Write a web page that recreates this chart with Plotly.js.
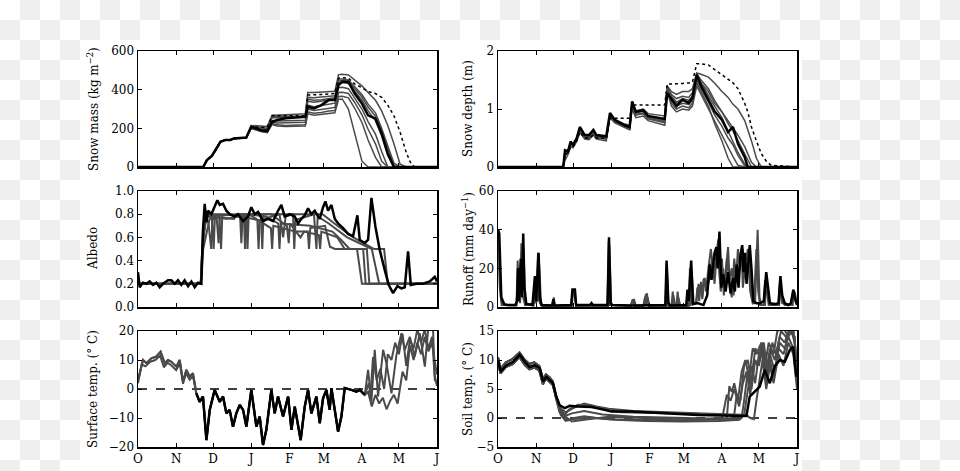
<!DOCTYPE html>
<html><head><meta charset="utf-8">
<script src="https://cdn.plot.ly/plotly-3.0.1.min.js"></script>
<style>
html,body{margin:0;padding:0;}
#wrap{position:relative;width:960px;height:471px;overflow:hidden;
 background:repeating-conic-gradient(#efefef 0 25%, #ffffff 0 50%) 0 0/40px 40px;}
#sheet{position:absolute;left:80px;top:40px;width:722px;height:431px;background:#fff;}
#plot{position:absolute;left:0;top:0;width:960px;height:471px;}
</style>
</head><body>
<div id="wrap"><div id="sheet"></div><div id="plot"></div></div>
<script>
// ---------- axis ticks ----------
const MONTH_DAYS = [0,31,61,92,123,151,182,212,243];
const MONTH_LABELS = ['O','N','D','J','F','M','A','M','J'];

// ---------- snow mass (kg m-2) ----------
const SM_DAYS = [0,53,56,60,63,67,71,75,78,88,92,100,105,109,113,120,136,138,143,149,155,160,163,166,171,176,182,187,193,198,203,208,213,218,222,225,243];
const SM_OBS = [0,0,36,57,88,131,140,140,148,152,208,190,186,234,243,252,260,312,303,320,346,346,424,441,441,381,328,267,250,174,69,0,0,0,0,0,0];
const SM_DOT = [0,0,34,55,86,128,138,139,146,150,205,205,205,265,265,265,265,372,372,375,378,380,460,462,460,430,410,390,380,360,320,265,180,75,15,0,0];
const SM_G1 = [0,0,35,55,88,130,138,140,147,150,215,212,210,268,268,270,275,385,385,388,390,392,478,480,476,450,420,385,345,290,215,120,15,0,0,0,0];
const SM_G2 = [0,0,36,57,90,132,140,141,148,152,210,205,200,262,262,262,264,360,358,362,366,368,455,455,450,415,375,325,280,200,110,20,0,0,0,0,0];
const SM_G3 = [0,0,35,56,88,130,139,140,147,151,208,198,195,255,254,256,258,340,335,340,348,350,435,437,432,395,345,290,240,160,60,0,0,0,0,0,0];
const SM_G4 = [0,0,37,58,89,131,140,141,149,153,205,192,188,240,238,240,242,320,312,318,325,330,410,412,405,360,300,235,170,80,0,0,0,0,0,0,0];
const SM_G5 = [0,0,36,56,87,130,139,140,147,151,205,190,185,232,228,230,232,300,292,298,305,308,385,386,380,335,270,195,120,30,0,0,0,0,0,0,0];
const SM_G6 = [0,0,35,57,89,131,139,140,148,152,200,185,180,225,218,215,218,285,278,282,290,292,365,366,358,305,230,140,50,0,0,0,0,0,0,0,0];
const SM_G7 = [0,0,36,57,88,131,140,140,148,152,200,183,178,220,212,210,212,275,268,272,278,280,350,352,300,180,30,0,0,0,0,0,0,0,0,0,0];
const SM_G8 = [0,0,36,57,88,131,140,141,148,152,210,200,196,258,258,258,260,350,345,348,355,358,445,448,442,408,362,310,262,190,95,5,0,0,0,0,0];

// ---------- snow depth (m) ----------
const SD_DAYS = [0,53,54.5,57,59,61,64,66.5,70.5,74,77.5,80,88,91,95,103,107,109,112,118,122,135.5,137.5,141,145,150,155,158,161.5,165,171,176,182,187,191,195,200.5,203,206,210,214,218,222,243];
const SD_OBS = [0,0,0.29,0.27,0.44,0.38,0.5,0.69,0.55,0.55,0.64,0.55,0.53,0.93,0.81,0.72,0.69,1.13,0.95,0.98,0.88,0.83,1.27,1.16,1.05,1.16,1.1,1.19,1.59,1.4,1.16,0.96,0.81,0.6,0.69,0.4,0.17,0,0,0,0,0,0,0];
const SD_DOT = [0,0,0.2,0.25,0.35,0.35,0.45,0.6,0.5,0.5,0.55,0.5,0.5,0.84,0.84,0.84,0.84,1.07,1.07,1.07,1.07,1.07,1.43,1.43,1.43,1.44,1.45,1.46,1.78,1.78,1.76,1.68,1.6,1.52,1.45,1.35,1.1,0.95,0.69,0.45,0.23,0.1,0.03,0];
const SD_G1 = [0,0,0.22,0.3,0.4,0.36,0.48,0.66,0.53,0.52,0.6,0.53,0.5,0.9,0.82,0.74,0.72,1.12,0.97,1.0,0.92,0.88,1.4,1.3,1.25,1.3,1.3,1.35,1.62,1.6,1.55,1.45,1.3,1.2,1.08,1.0,0.8,0.65,0.45,0.15,0,0,0,0];
const SD_G2 = [0,0,0.26,0.28,0.42,0.37,0.49,0.67,0.54,0.53,0.62,0.54,0.51,0.91,0.8,0.71,0.68,1.1,0.93,0.96,0.86,0.8,1.38,1.22,1.12,1.18,1.15,1.22,1.6,1.5,1.35,1.15,0.95,0.8,0.68,0.55,0.35,0.22,0.08,0,0,0,0,0];
const SD_G3 = [0,0,0.12,0.22,0.35,0.33,0.44,0.6,0.48,0.47,0.55,0.48,0.45,0.85,0.76,0.68,0.64,1.0,0.85,0.88,0.8,0.72,1.3,1.05,0.95,1.0,0.98,1.05,1.4,1.25,1.0,0.8,0.55,0.35,0.18,0.03,0,0,0,0,0,0,0,0];
const SD_G4 = [0,0,0.25,0.3,0.41,0.37,0.47,0.64,0.52,0.5,0.58,0.51,0.49,0.88,0.78,0.7,0.66,1.08,0.9,0.93,0.84,0.78,1.35,1.1,1.0,1.05,1.02,1.1,1.45,1.3,1.05,0.75,0.45,0.15,0,0,0,0,0,0,0,0,0,0];
const SD_G5 = [0,0,0.27,0.29,0.43,0.38,0.5,0.68,0.55,0.54,0.62,0.54,0.52,0.9,0.8,0.7,0.68,1.12,0.95,0.97,0.88,0.8,1.38,1.2,1.1,1.15,1.12,1.2,1.58,1.45,1.25,1.05,0.85,0.62,0.45,0.25,0.05,0,0,0,0,0,0,0];
const SD_G6 = [0,0,0.2,0.27,0.4,0.36,0.47,0.65,0.52,0.51,0.6,0.52,0.5,0.89,0.8,0.72,0.7,1.1,0.94,0.97,0.87,0.82,1.36,1.25,1.18,1.22,1.2,1.28,1.55,1.45,1.3,1.1,0.95,0.75,0.62,0.45,0.22,0.1,0,0,0,0,0,0];
const SD_G7 = [0,0,0.24,0.26,0.39,0.35,0.46,0.63,0.5,0.49,0.57,0.5,0.48,0.87,0.77,0.69,0.66,1.06,0.9,0.92,0.83,0.76,1.35,1.15,1.05,1.1,1.08,1.15,1.5,1.35,1.12,0.9,0.7,0.5,0.38,0.2,0.02,0,0,0,0,0,0,0];

// ---------- albedo ----------
const ALB_OBS_D = [0,1.4,4,6.8,9.5,12.2,14.9,17.6,20.3,24.4,27.1,29.8,32.5,35.2,37.9,40.7,43.4,46.1,48.8,51.5,52.8,54.2,55.6,56.9,59.6,62.3,64.5,66.4,69.1,71.8,74.5,78.6,81.3,85.4,89.4,92.1,94.9,97.6,101.6,105.7,109.8,113.8,116.5,119.2,123.3,127.4,130.1,132.8,135.5,138.2,140.9,143.6,147.7,150.4,152.3,154.5,157.2,159.9,162.6,166.7,170.7,174.8,178.3,180.2,184.3,187,189.7,193,196.5,200.5,203.8,207.3,210.8,214.1,216.8,219.5,221.7,226.3,231.7,237.1,241.2,243];
const ALB_OBS = [0.30,0.17,0.21,0.20,0.22,0.19,0.21,0.17,0.20,0.23,0.23,0.20,0.23,0.19,0.23,0.18,0.22,0.17,0.21,0.20,0.66,0.89,0.73,0.83,0.80,0.86,0.92,0.88,0.89,0.83,0.80,0.78,0.80,0.74,0.78,0.86,0.80,0.82,0.74,0.76,0.74,0.83,0.88,0.78,0.80,0.78,0.72,0.76,0.79,0.85,0.80,0.83,0.76,0.86,0.91,0.83,0.88,0.76,0.72,0.68,0.63,0.61,0.79,0.58,0.55,0.58,0.94,0.69,0.49,0.32,0.19,0.12,0.18,0.16,0.17,0.48,0.19,0.20,0.20,0.22,0.26,0.22];
const ALB_G1_D = [0,51,53,56,58,60,61.5,62.5,63.5,66,67.5,68.5,69.5,80,88,89,90,108,109,110,128,138,139,140,152,156,160,183,185,243];
const ALB_G1 = [0.2,0.2,0.5,0.65,0.75,0.78,0.5,0.78,0.79,0.79,0.5,0.79,0.79,0.8,0.8,0.5,0.8,0.68,0.5,0.7,0.65,0.65,0.5,0.68,0.7,0.52,0.5,0.5,0.2,0.2];
const ALB_G2_D = [0,51,52,55,58,75,83,84,85,97,98,99,115,118,120,126,127,128,143,145,146,155,170,180,190,196,243];
const ALB_G2 = [0.2,0.2,0.45,0.76,0.8,0.8,0.78,0.55,0.78,0.75,0.5,0.75,0.8,0.6,0.78,0.8,0.5,0.75,0.8,0.5,0.78,0.72,0.6,0.55,0.5,0.2,0.2];
const ALB_G3_D = [0,51,53,55,57,59.5,60.5,61.5,64,65.5,66.5,78,80,95,108,121,122.5,123.5,132,135,147,148,149,162,168,178,182,243];
const ALB_G3 = [0.2,0.2,0.6,0.73,0.75,0.5,0.75,0.76,0.76,0.55,0.77,0.76,0.8,0.8,0.8,0.7,0.55,0.72,0.6,0.65,0.62,0.5,0.65,0.6,0.5,0.5,0.2,0.2];
const ALB_G4_D = [0,51,54,58,72,92,100,101,102,110,130,150,162,175,192,200,203,243];
const ALB_G4 = [0.2,0.2,0.78,0.78,0.76,0.8,0.8,0.5,0.8,0.8,0.8,0.8,0.7,0.6,0.5,0.5,0.2,0.2];
const ALB_G5_D = [0,51,53,57,70,86,87,88,104,114,115,116,140,158,165,172,186,188,243];
const ALB_G5 = [0.2,0.2,0.7,0.78,0.79,0.8,0.5,0.8,0.78,0.72,0.5,0.72,0.7,0.65,0.58,0.5,0.5,0.2,0.2];

// ---------- runoff (mm day-1) ----------
const RO_OBS_D = [0,1,2.7,5,8,14,15.5,16.3,17,18.5,19.5,20.5,21.5,23,28,29.5,30,31,33,34,35.5,44,45,46,59.5,60.5,62.5,63.5,75,76,77,89,90.2,91.5,93,108,120,136,137,138.5,140,153,154,155,157,158.5,162,167,170,172,173.5,176,177.5,178.5,180,181.5,183,185,187,189,191,192.5,194,195.5,197,198.5,199.5,200.5,202,204.6,206,207.5,210,213,216,217,218,219.5,221,225,228,229.5,231,233,236,238,240,241.5,243];
const RO_OBS = [40,38,5,1.5,1,1,3,20,3,25,5,38,10,1.5,1,10,16,3,28,5,1,0.8,4,0.8,1,9,9,1,1.2,2,1.2,1,36,2,1,0.8,0.8,1,24,2,0.8,1,9,3,24,1.5,2,1,6,22,14,28,31,20,39,10,17,8,18,7,15,8,22,10,27,32,18,28,12,32,20,3,2,2,3,12,18,10,2,1.5,2,16,6,2,1,2,9,4,1];
const RO_G1_D = [0,1,2.5,5,15,16,17,18,19,20,22,29.5,30,31,32.5,34,36,44.5,45.3,46.3,60,61,62.5,63.5,89,90,91,108,109.5,111,118,120,121,122.5,136.5,137.2,138.3,141,142,143,145,146,147,155,156,157.5,161,163,164,165,166,167,168,169,171,173,175,177,179,180.5,182,183.5,185,187,188.5,190,192,193.5,195,196.5,198,199,201,203,205,207,209,211,212.5,214,216,217,218.5,220,225,228,229,230.5,233,238,239,241,243];
const RO_G1 = [38,30,3,1,1,24,5,2,33,6,1,2,15,2,28,2,0.5,0.5,5,0.5,0.5,8,8,0.5,0.5,34,1,0.5,4,0.5,0.5,6,7,0.5,0.5,22,0.5,0.5,8,0.5,0.5,8,0.5,0.5,20,2,2,12,8,12,4,14,15,8,20,30,18,24,35,12,25,6,18,31,10,5,25,15,30,20,28,10,22,30,8,2,3,40,5,1,1,14,8,1,1,1,12,3,1,1,5,8,2];
const RO_G2_D = [0,1.5,3,15,16.5,17.5,19,20,20.8,22,29,30,31,32.5,33.5,35,44,45,46,59.5,60.5,62,63.5,89.5,90.5,92,108,109,110.5,112,118.5,119.5,120.5,121.5,123,136,137,138.5,141.5,142.5,144,145.5,146.5,148,153,154,155,156.5,157.5,159,161,162,163.5,165,166,168,170,172,174,176,178,179.5,181,183,184.5,186,188,190,191.5,193,195,197,199,200.5,202,204,206,208,210,211.5,213,217,218,219.5,222,228.5,229.5,231,239.5,240.5,242,243];
const RO_G2 = [35,10,1,0.8,18,3,28,15,30,2,0.8,12,4,3,22,1,0.7,3,0.7,0.7,7,7,0.7,0.7,32,1,0.7,3,4,0.7,0.7,5,1,5,0.7,0.7,20,1,0.7,6,1,0.7,5,1,0.7,5,1,1,18,2,2,10,3,13,5,14,10,15,25,12,30,22,8,20,10,25,14,20,6,18,12,25,30,15,25,28,6,1.5,30,8,1,1,16,4,1,1,14,2,1,7,3,2];

// ---------- surface temperature (deg C) ----------
const ST_PRE1_D = [0,4.1,6.8,10.8,14.9,18.4,21.7,24.4,27.1,31.2,33.9,36.6,39.3,42,44.7];
const ST_PRE1 = [3.1,10.0,8.9,10.6,11.2,12.9,8.9,10.0,9.4,7.7,10.0,2.5,6.6,4.3,5.4];
const ST_PRE2_D = [0,3,6,10,14,18,21,24,27,31,34,36.6,39,42,44.7];
const ST_PRE2 = [2.0,8.5,7.8,9.4,10.0,11.5,7.5,9.0,8.2,6.5,8.8,1.8,5.5,3.2,4.5];
const ST_WIN_D = [47.4,50.1,52.8,55.6,58.3,62.3,66.4,69.1,71.8,74.5,77.2,79.9,82.7,85.4,88.1,92.1,96.2,98.9,101.6,104.3,108.4,111.1,113.8,117.9,122,124.7,127.4,132.2,135.5,138.2,140.9,145,147.7,150.4,153.1,155.8,157.2,159.9,162.6,165.3,168,173.4,177.5,180.2,184.3];
const ST_WIN = [-1.5,-4.4,-2.6,-17.6,-7.2,-0.3,-4.4,-2.6,-8.4,-7.2,-13.0,-8.4,-5.5,-7.2,-13.0,-0.3,-13.0,-9.5,-19.3,-14.1,-0.3,-8.4,-2.6,-9.5,-2.6,-14.1,-6.1,-17.6,-6.1,-0.3,-8.4,-2.6,-11.8,-3.2,-0.3,-7.2,0.3,-7.2,-14.7,-9.5,0.3,-0.3,-0.9,-0.3,-2.0];
const ST_MELT1_D = [187,189.7,192.4,195.1,199.2,201.9,206,210,214.1,216.8,220.9,224.9,229,233.1,235.8,239.8,241.2,243];
const ST_MELT1 = [6.6,-4.4,13.5,-2.6,13.5,8.9,-1.5,11.7,19.2,13.5,18.0,11.2,19.2,7.7,20.5,20.5,3.1,2.0];
const ST_MELT2_D = [187,190,193,196,199,202,205,208,211,213,215,218,221,224,227,230,233,236,239,241,243];
const ST_MELT2 = [-1,-6,-2,-5,-3,-7,-4,-2,-5,0,6,3,15,10,16,12,18,13,16,10,5];
const ST_MELT3_D = [186,187.5,189,191,194,197,200,203,206,209,212,215,218,221,224,227,230,233,236,239,241,243];
const ST_MELT3 = [0,2,-2,11,3,7,0,12,10,16,12,19,8,17,14,20.5,16,20.5,14,18,5,1];

// ---------- soil temperature (deg C) ----------
const SO_OBS_D = [0,2.2,6.8,12.2,17.6,21.7,25.7,29.8,33.9,36.6,39.3,42,44.7,47.4,50.1,54.2,58.3,65,75.9,86.7,92.1,108.4,122,135.5,162.6,189.7,201.9,204.6,208.7,212.7,216.8,220.9,224.9,229,233.1,237.1,239.8,242.5];
const SO_OBS = [10.0,8.0,9.1,9.7,10.9,9.7,8.8,9.1,8.6,6.3,7.1,6.6,6.0,3.7,2.2,1.7,2.1,2.0,1.9,1.4,1.1,1.1,0.9,0.8,0.5,0.35,0.35,3.7,4.5,5.4,8.3,6.0,8.9,10.0,9.7,11.7,12.3,7.1];
const SO_PRE_D = [0,2,6.5,12,17.5,21.5,25.5,29.5,33.5,36.5,39,42,44.5];
const SO_PRE1 = [10.5,8.5,9.6,10.2,11.3,10.1,9.3,9.6,9.0,6.8,7.5,7.0,6.3];
const SO_PRE2 = [9.6,7.7,8.8,9.3,10.5,9.2,8.4,8.7,8.2,5.8,6.8,6.2,5.7];
const SO_W1_D = [47,50,54,57,62,70,80,95,120,150,180,196];
const SO_W1 = [3.5,1,0,-0.4,0,0.3,0,-0.3,-0.5,-0.6,-0.5,-0.3];
const SO_W2_D = [47,50,54,58,65,75,85,100,130,160,185];
const SO_W2 = [4,2,0.5,1.5,2.3,2.2,1.5,1.0,0.9,0.7,0.6];
const SO_W3_D = [47,50,54,60,70,85,110,140,170,190];
const SO_W3 = [3.8,1.5,0.3,0.8,1.2,0.6,0.2,0.0,-0.1,0];
const SO_W4_D = [47,51,55,60,75,90,120,150,180];
const SO_W4 = [3.6,0.5,-0.5,-0.2,0.1,-0.2,-0.3,-0.4,-0.2];
const SO_W5_D = [47,50,55,62,70,80,90,110,140,170,188];
const SO_W5 = [3.9,1.8,1.0,1.8,2.5,2.0,1.6,1.2,1.0,0.8,0.6];
const SO_W6_D = [47,51,55,60,70,90,120,150,183];
const SO_W6 = [3.7,1.2,0.2,-0.6,-0.3,0.2,0,-0.2,-0.3];
const SO_M1_D = [186,188,190,192,195,198,201,204,207,210,214,217,220,224,227,232,236,240,243];
const SO_M1 = [0,5.5,4.5,6,3,8,10,7,12,11,13,9,13,11,15,15.5,14,15.5,9];
const SO_M2_D = [192,194,197,200,203,206,209,212,216,219,223,226,230,234,238,241,243];
const SO_M2 = [0.6,4,3,9,10,6,12,11,13,8,13,11,15,14,15.5,13,8];
const SO_M3_D = [198,200,203,206,209,212,215,218,221,224,228,232,236,240,243];
const SO_M3 = [0,3,8,5,10,9,12,6,10,7,12,11,14,12,6];
const SO_M4_D = [182,186,189,192,196,199,202,205,208,211,214,217,221,225,229,233,237,241,243];
const SO_M4 = [-0.2,4,3,5,2,6,8,4,10,9,12,7,11,8,13,12,15,14,7];
const SO_M5_D = [190,202,205,208,210,212,215,218,221,224,228,232,236,240,243];
const SO_M5 = [0.6,0.5,0,-0.2,3,6,10,5,9,6,11,9,13,11,5];
const SO_M6_D = [185,195,200,203,206,209,212,215,218,221,225,229,233,237,241,243];
const SO_M6 = [-0.3,-0.3,0.5,5,9,6,11,13,8,12,10,14,13,15.5,14,8];

// ---------- build ----------
const GREY = '#4a4a4a';
const FONT = '"DejaVu Serif", "Liberation Serif", serif';
const traces = [];
function line(x, y, k, color, width, dash) {
  traces.push({type:'scatter', mode:'lines', x:x, y:y,
    xaxis: k === 1 ? 'x' : 'x' + k, yaxis: k === 1 ? 'y' : 'y' + k,
    line:{color:color, width:width, dash:dash || 'solid'}, hoverinfo:'skip', showlegend:false});
}
// panel 1
[SM_G1,SM_G2,SM_G3,SM_G4,SM_G5,SM_G6,SM_G7,SM_G8].forEach(g => line(SM_DAYS, g, 1, GREY, 1.5));
line(SM_DAYS, SM_DOT, 1, '#000', 1.5, 'dot');
line(SM_DAYS, SM_OBS, 1, '#000', 2.5);
// panel 2
[SD_G1,SD_G2,SD_G3,SD_G4,SD_G5,SD_G6,SD_G7].forEach(g => line(SD_DAYS, g, 2, GREY, 1.5));
line(SD_DAYS, SD_DOT, 2, '#000', 1.5, 'dot');
line(SD_DAYS, SD_OBS, 2, '#000', 2.5);
// panel 3
[[ALB_G1_D,ALB_G1],[ALB_G2_D,ALB_G2],[ALB_G3_D,ALB_G3],[ALB_G4_D,ALB_G4],[ALB_G5_D,ALB_G5]].forEach(p => line(p[0], p[1], 3, GREY, 2));
line(ALB_OBS_D, ALB_OBS, 3, '#000', 2.5);
// panel 4
line(RO_G1_D, RO_G1, 4, GREY, 2);
line(RO_G2_D, RO_G2, 4, GREY, 2);
line(RO_OBS_D, RO_OBS, 4, '#000', 2.5);
// panel 5
line(ST_PRE1_D.concat(ST_WIN_D, ST_MELT1_D), ST_PRE1.concat(ST_WIN, ST_MELT1), 5, GREY, 2);
line(ST_PRE2_D.concat(ST_WIN_D, ST_MELT2_D), ST_PRE2.concat(ST_WIN, ST_MELT2), 5, GREY, 2);
line(ST_PRE1_D.concat(ST_WIN_D, ST_MELT3_D), ST_PRE1.concat(ST_WIN, ST_MELT3), 5, GREY, 2);
line(ST_WIN_D, ST_WIN, 5, '#000', 2.5);
// panel 6
[[SO_PRE1,SO_W2_D,SO_W2,SO_M1_D,SO_M1],[SO_PRE2,SO_W3_D,SO_W3,SO_M2_D,SO_M2],[SO_PRE1,SO_W1_D,SO_W1,SO_M3_D,SO_M3],
 [SO_PRE2,SO_W4_D,SO_W4,SO_M4_D,SO_M4],[SO_PRE1,SO_W5_D,SO_W5,SO_M5_D,SO_M5],[SO_PRE2,SO_W6_D,SO_W6,SO_M6_D,SO_M6]]
 .forEach(p => line(SO_PRE_D.concat(p[1], p[3]), p[0].concat(p[2], p[4]), 6, GREY, 2));
line(SO_OBS_D, SO_OBS, 6, '#000', 2.5);

const W = 960, H = 471;
const colX = [[138/W, 437/W], [498/W, 797/W]];
const rowY = [[(H-167)/H, (H-51)/H], [(H-307)/H, (H-191)/H], [(H-447)/H, (H-331)/H]];
const yRanges = [[0,600],[0,2],[0,1],[0,60],[-20,20],[-5,15]];
const yTicks = [[0,200,400,600],[0,1,2],[0,0.2,0.4,0.6,0.8,1.0],[0,20,40,60],[-20,-10,0,10,20],[-5,0,5,10,15]];
const yTitles = ['Snow mass (kg m<sup>−2</sup>)', 'Snow depth (m)', 'Albedo', 'Runoff (mm day<sup>−1</sup>)',
                 'Surface temp. (° C)', 'Soil temp. (° C)'];
const tickFont = {family: FONT, size: 12, color: '#000'};

const layout = {
  width: W, height: H, margin:{l:0,r:0,t:0,b:0},
  paper_bgcolor:'rgba(0,0,0,0)', plot_bgcolor:'#fff',
  showlegend:false, font:{family:FONT, color:'#000'},
  annotations: [], shapes: []
};
for (let k = 1; k <= 6; k++) {
  const c = (k - 1) % 2, r = Math.floor((k - 1) / 2);
  const xs = k === 1 ? 'xaxis' : 'xaxis' + k, ys = k === 1 ? 'yaxis' : 'yaxis' + k;
  layout[xs] = {domain: colX[c], anchor: k === 1 ? 'y' : 'y' + k, range:[0,243],
    tickmode:'array', tickvals: MONTH_DAYS, ticktext: MONTH_LABELS, showticklabels: r === 2,
    ticks:'inside', ticklen:4, tickwidth:1, tickcolor:'#000', mirror:'ticks',
    showline:true, linecolor:'#000', linewidth:1.5, showgrid:false, zeroline:false,
    tickfont: tickFont, fixedrange:true};
  layout[ys] = {domain: rowY[r], anchor: k === 1 ? 'x' : 'x' + k, range: yRanges[k-1],
    tickmode:'array', tickvals: yTicks[k-1], tickformat: k === 3 ? '.1f' : '',
    ticks:'inside', ticklen:4, tickwidth:1, tickcolor:'#000', mirror:'ticks',
    showline:true, linecolor:'#000', linewidth:1.5, showgrid:false, zeroline:false,
    tickfont: tickFont, fixedrange:true};
  layout.annotations.push({text: yTitles[k-1], textangle:-90, xref:'paper', yref:'paper',
    x: c === 0 ? 93/W : 468/W, y: (rowY[r][0] + rowY[r][1]) / 2, xanchor:'center', yanchor:'middle',
    showarrow:false, font:{family:FONT, size:12, color:'#000'}});
  if (k >= 5) {
    layout.shapes.push({type:'line', xref: 'x' + k + ' domain', yref: 'y' + k, x0:0, x1:1, y0:0, y1:0,
      line:{color:'#000', width:1.5, dash:'dash'}, layer:'below'});
  }
}
Plotly.newPlot('plot', traces, layout, {staticPlot:true, displayModeBar:false});
</script>
</body></html>
